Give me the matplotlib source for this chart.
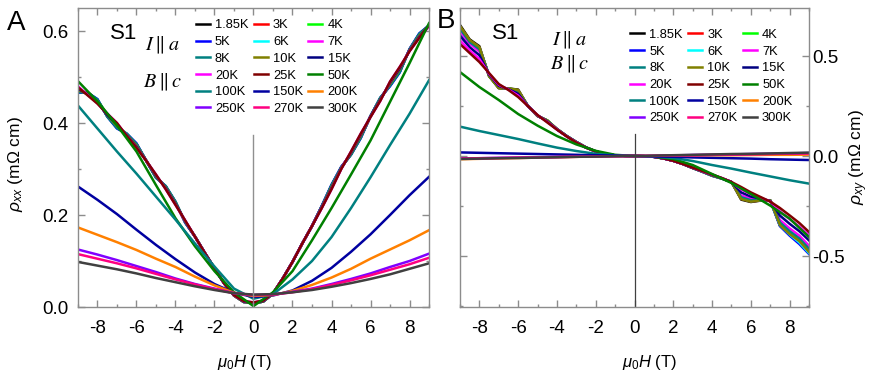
import numpy as np
import matplotlib
matplotlib.use("Agg")
import matplotlib.pyplot as plt
from matplotlib.ticker import MultipleLocator, FormatStrFormatter

plt.rcParams['font.family'] = ['Liberation Sans', 'DejaVu Sans']
plt.rcParams['axes.unicode_minus'] = False
plt.rcParams['mathtext.fontset'] = 'custom'
plt.rcParams['mathtext.rm'] = 'Liberation Sans'
plt.rcParams['mathtext.it'] = 'Liberation Sans:italic'
plt.rcParams['mathtext.bf'] = 'Liberation Sans:bold'

# field grids (T)
field_fine = np.linspace(-9, 9, 37)   # 0.5 T steps, low-T curves
field = np.arange(-9, 10)             # 1 T steps, high-T curves

temps_low = ['1.85', '3', '4', '5', '6', '7', '8', '10', '15', '20', '25']
temps_high = ['50', '100', '150', '200', '250', '270', '300']
colors_low = ['#000000', '#ff0000', '#00ff00', '#0000ff', '#00ffff', '#ff00ff',
              '#008080', '#808000', '#000080', '#ff00ff', '#800000']
colors_high = ['#008000', '#008080', '#0000a0', '#ff8000', '#8000ff', '#ff0080', '#404040']

# rho_xx (mOhm cm), panel A, low T on field_fine
rxx_low = [
    [0.468, 0.465, 0.450, 0.415, 0.390, 0.376, 0.354, 0.318, 0.282, 0.262, 0.228, 0.184, 0.153, 0.118, 0.084, 0.051, 0.025, 0.011, 0.008,
     0.012, 0.029, 0.062, 0.098, 0.138, 0.176, 0.219, 0.264, 0.304, 0.332, 0.369, 0.415, 0.454, 0.482, 0.512, 0.560, 0.593, 0.612],  # 1.85K
    [0.469, 0.464, 0.449, 0.416, 0.391, 0.376, 0.353, 0.318, 0.283, 0.261, 0.227, 0.184, 0.153, 0.118, 0.084, 0.051, 0.025, 0.011, 0.008,
     0.012, 0.029, 0.062, 0.098, 0.138, 0.176, 0.219, 0.263, 0.304, 0.333, 0.370, 0.415, 0.453, 0.483, 0.513, 0.560, 0.592, 0.612],  # 3K
    [0.471, 0.466, 0.451, 0.418, 0.393, 0.377, 0.354, 0.319, 0.284, 0.262, 0.228, 0.185, 0.154, 0.118, 0.084, 0.051, 0.025, 0.011, 0.008,
     0.012, 0.029, 0.062, 0.098, 0.138, 0.176, 0.218, 0.262, 0.303, 0.332, 0.369, 0.414, 0.452, 0.482, 0.512, 0.559, 0.591, 0.611],  # 4K
    [0.466, 0.466, 0.452, 0.414, 0.388, 0.377, 0.356, 0.318, 0.281, 0.263, 0.229, 0.183, 0.153, 0.118, 0.084, 0.051, 0.025, 0.011, 0.008,
     0.012, 0.029, 0.062, 0.098, 0.138, 0.176, 0.220, 0.266, 0.305, 0.331, 0.367, 0.415, 0.455, 0.480, 0.510, 0.561, 0.595, 0.612],  # 5K
    [0.470, 0.464, 0.448, 0.416, 0.392, 0.375, 0.352, 0.318, 0.283, 0.261, 0.227, 0.185, 0.153, 0.118, 0.084, 0.051, 0.025, 0.011, 0.008,
     0.012, 0.029, 0.062, 0.098, 0.138, 0.176, 0.218, 0.262, 0.303, 0.333, 0.371, 0.415, 0.453, 0.484, 0.514, 0.559, 0.591, 0.612],  # 6K
    [0.471, 0.464, 0.448, 0.416, 0.393, 0.375, 0.352, 0.318, 0.284, 0.260, 0.226, 0.185, 0.153, 0.118, 0.084, 0.051, 0.025, 0.011, 0.008,
     0.012, 0.029, 0.062, 0.098, 0.138, 0.176, 0.218, 0.262, 0.303, 0.334, 0.371, 0.414, 0.452, 0.484, 0.515, 0.559, 0.591, 0.612],  # 7K
    [0.467, 0.466, 0.451, 0.414, 0.389, 0.376, 0.355, 0.318, 0.281, 0.263, 0.229, 0.184, 0.153, 0.118, 0.084, 0.051, 0.025, 0.011, 0.008,
     0.012, 0.029, 0.062, 0.098, 0.138, 0.176, 0.219, 0.265, 0.304, 0.331, 0.368, 0.415, 0.455, 0.481, 0.511, 0.560, 0.594, 0.612],  # 8K
    [0.472, 0.463, 0.447, 0.417, 0.394, 0.374, 0.351, 0.318, 0.284, 0.260, 0.226, 0.186, 0.153, 0.118, 0.084, 0.051, 0.025, 0.011, 0.008,
     0.012, 0.029, 0.062, 0.098, 0.138, 0.176, 0.217, 0.261, 0.302, 0.334, 0.372, 0.414, 0.452, 0.485, 0.516, 0.558, 0.590, 0.612],  # 10K
    [0.475, 0.462, 0.444, 0.418, 0.397, 0.373, 0.348, 0.318, 0.286, 0.258, 0.224, 0.187, 0.153, 0.118, 0.084, 0.051, 0.026, 0.012, 0.009,
     0.013, 0.030, 0.062, 0.098, 0.138, 0.176, 0.216, 0.258, 0.301, 0.336, 0.375, 0.414, 0.450, 0.488, 0.519, 0.557, 0.587, 0.612],  # 15K
    [0.480, 0.461, 0.443, 0.421, 0.400, 0.372, 0.346, 0.318, 0.288, 0.256, 0.222, 0.188, 0.153, 0.118, 0.084, 0.051, 0.026, 0.013, 0.010,
     0.014, 0.030, 0.062, 0.098, 0.138, 0.176, 0.215, 0.256, 0.300, 0.338, 0.377, 0.413, 0.448, 0.490, 0.522, 0.556, 0.585, 0.610],  # 20K
    [0.478, 0.460, 0.442, 0.420, 0.400, 0.372, 0.346, 0.318, 0.288, 0.256, 0.222, 0.188, 0.153, 0.118, 0.084, 0.051, 0.026, 0.013, 0.010,
     0.014, 0.030, 0.062, 0.098, 0.138, 0.176, 0.215, 0.256, 0.300, 0.338, 0.377, 0.413, 0.448, 0.490, 0.522, 0.556, 0.585, 0.612],  # 25K
]

# rho_xx, panel A, high T on field
rxx_high = [
    [0.491, 0.447, 0.395, 0.338, 0.265, 0.193, 0.132, 0.078, 0.032, 0.002, 0.032, 0.078, 0.145, 0.215, 0.288, 0.362, 0.446, 0.530, 0.617],  # 50K
    [0.438, 0.388, 0.338, 0.290, 0.240, 0.190, 0.138, 0.088, 0.040, 0.018, 0.028, 0.060, 0.100, 0.152, 0.215, 0.282, 0.352, 0.420, 0.493],  # 100K
    [0.262, 0.233, 0.202, 0.168, 0.135, 0.104, 0.075, 0.050, 0.031, 0.022, 0.025, 0.036, 0.057, 0.085, 0.120, 0.158, 0.200, 0.243, 0.283],  # 150K
    [0.173, 0.157, 0.141, 0.124, 0.105, 0.087, 0.066, 0.047, 0.031, 0.024, 0.026, 0.035, 0.048, 0.064, 0.083, 0.105, 0.125, 0.145, 0.167],  # 200K
    [0.125, 0.114, 0.102, 0.089, 0.076, 0.062, 0.050, 0.040, 0.030, 0.026, 0.027, 0.033, 0.040, 0.050, 0.061, 0.073, 0.087, 0.100, 0.116],  # 250K
    [0.115, 0.105, 0.095, 0.084, 0.072, 0.060, 0.049, 0.039, 0.030, 0.026, 0.027, 0.032, 0.039, 0.048, 0.058, 0.069, 0.081, 0.093, 0.107],  # 270K
    [0.098, 0.090, 0.082, 0.073, 0.063, 0.054, 0.045, 0.037, 0.030, 0.027, 0.028, 0.032, 0.037, 0.044, 0.052, 0.061, 0.071, 0.083, 0.095],  # 300K
]

# rho_xy (mOhm cm), panel B, low T on field_fine
rxy_low = [
    [0.655, 0.583, 0.549, 0.399, 0.339, 0.338, 0.332, 0.250, 0.200, 0.178, 0.135, 0.100, 0.070, 0.043, 0.023, 0.010, 0.003, 0.001, 0.000,
     -0.001, -0.004, -0.012, -0.024, -0.040, -0.060, -0.078, -0.098, -0.112, -0.130, -0.218, -0.230, -0.223, -0.222, -0.349, -0.395, -0.430, -0.485],  # 1.85K
    [0.648, 0.578, 0.543, 0.401, 0.341, 0.337, 0.329, 0.251, 0.200, 0.177, 0.135, 0.100, 0.070, 0.043, 0.023, 0.010, 0.003, 0.001, 0.000,
     -0.001, -0.004, -0.012, -0.024, -0.040, -0.060, -0.078, -0.097, -0.112, -0.130, -0.214, -0.227, -0.222, -0.221, -0.344, -0.389, -0.424, -0.478],  # 3K
    [0.646, 0.577, 0.541, 0.401, 0.341, 0.338, 0.328, 0.250, 0.200, 0.178, 0.135, 0.100, 0.070, 0.043, 0.023, 0.010, 0.003, 0.001, 0.000,
     -0.001, -0.004, -0.012, -0.024, -0.040, -0.060, -0.078, -0.098, -0.112, -0.130, -0.212, -0.226, -0.221, -0.222, -0.341, -0.385, -0.421, -0.475],  # 4K
    [0.615, 0.565, 0.540, 0.405, 0.345, 0.336, 0.325, 0.252, 0.201, 0.176, 0.134, 0.100, 0.070, 0.043, 0.023, 0.010, 0.003, 0.001, 0.000,
     -0.001, -0.004, -0.012, -0.024, -0.040, -0.060, -0.079, -0.099, -0.113, -0.130, -0.210, -0.226, -0.222, -0.224, -0.350, -0.398, -0.440, -0.490],  # 5K
    [0.620, 0.567, 0.538, 0.404, 0.344, 0.336, 0.324, 0.251, 0.201, 0.176, 0.134, 0.100, 0.070, 0.043, 0.023, 0.010, 0.003, 0.001, 0.000,
     -0.001, -0.004, -0.012, -0.024, -0.040, -0.060, -0.078, -0.098, -0.112, -0.130, -0.208, -0.224, -0.220, -0.222, -0.345, -0.392, -0.432, -0.485],  # 6K
    [0.623, 0.561, 0.523, 0.404, 0.346, 0.336, 0.320, 0.250, 0.201, 0.175, 0.134, 0.099, 0.069, 0.042, 0.023, 0.010, 0.003, 0.001, 0.000,
     -0.001, -0.004, -0.012, -0.024, -0.040, -0.059, -0.077, -0.096, -0.111, -0.130, -0.197, -0.214, -0.217, -0.224, -0.320, -0.362, -0.398, -0.449],  # 7K
    [0.637, 0.570, 0.534, 0.402, 0.343, 0.337, 0.325, 0.250, 0.201, 0.177, 0.135, 0.100, 0.070, 0.043, 0.023, 0.010, 0.003, 0.001, 0.000,
     -0.001, -0.004, -0.012, -0.024, -0.040, -0.060, -0.078, -0.097, -0.112, -0.130, -0.206, -0.221, -0.219, -0.223, -0.332, -0.376, -0.412, -0.464],  # 8K
    [0.650, 0.580, 0.545, 0.400, 0.340, 0.338, 0.330, 0.250, 0.200, 0.178, 0.135, 0.100, 0.070, 0.043, 0.023, 0.010, 0.003, 0.001, 0.000,
     -0.001, -0.004, -0.012, -0.024, -0.040, -0.060, -0.078, -0.098, -0.112, -0.130, -0.215, -0.228, -0.222, -0.222, -0.345, -0.390, -0.425, -0.480],  # 10K
    [0.601, 0.544, 0.504, 0.408, 0.351, 0.334, 0.311, 0.250, 0.203, 0.173, 0.133, 0.099, 0.068, 0.042, 0.023, 0.010, 0.003, 0.001, 0.000,
     -0.001, -0.004, -0.012, -0.024, -0.040, -0.059, -0.076, -0.095, -0.111, -0.130, -0.182, -0.203, -0.213, -0.225, -0.298, -0.339, -0.376, -0.422],  # 15K
    [0.578, 0.528, 0.485, 0.412, 0.356, 0.332, 0.302, 0.250, 0.204, 0.170, 0.133, 0.098, 0.068, 0.042, 0.023, 0.010, 0.003, 0.001, 0.000,
     -0.001, -0.004, -0.012, -0.024, -0.040, -0.058, -0.076, -0.093, -0.110, -0.130, -0.167, -0.191, -0.208, -0.227, -0.277, -0.316, -0.353, -0.396],  # 20K
    [0.560, 0.515, 0.470, 0.415, 0.360, 0.330, 0.295, 0.250, 0.205, 0.168, 0.132, 0.098, 0.067, 0.042, 0.023, 0.010, 0.003, 0.001, 0.000,
     -0.001, -0.004, -0.012, -0.024, -0.040, -0.058, -0.075, -0.092, -0.110, -0.130, -0.155, -0.182, -0.205, -0.228, -0.260, -0.297, -0.335, -0.380],  # 25K
]

# rho_xy, panel B, high T on field
rxy_high = [
    [0.420, 0.345, 0.280, 0.210, 0.152, 0.100, 0.058, 0.026, 0.006, 0.000, -0.003, -0.015, -0.045, -0.090, -0.135, -0.190, -0.248, -0.313, -0.405],  # 50K
    [0.147, 0.125, 0.105, 0.085, 0.063, 0.042, 0.025, 0.011, 0.003, 0.000, -0.003, -0.010, -0.025, -0.045, -0.063, -0.083, -0.102, -0.121, -0.138],  # 100K
    [0.018, 0.016, 0.014, 0.012, 0.010, 0.008, 0.006, 0.004, 0.002, 0.000, -0.002, -0.004, -0.007, -0.009, -0.011, -0.013, -0.016, -0.018, -0.020],  # 150K
    [-0.016, -0.014, -0.012, -0.010, -0.008, -0.006, -0.004, -0.002, -0.001, 0.000, 0.001, 0.002, 0.003, 0.004, 0.004, 0.005, 0.006, 0.006, 0.007],  # 200K
    [-0.012, -0.011, -0.009, -0.008, -0.006, -0.005, -0.003, -0.002, -0.001, 0.000, 0.001, 0.003, 0.005, 0.006, 0.008, 0.010, 0.011, 0.013, 0.015],  # 250K
    [-0.013, -0.011, -0.010, -0.008, -0.007, -0.005, -0.004, -0.002, -0.001, 0.000, 0.001, 0.003, 0.004, 0.006, 0.007, 0.009, 0.010, 0.012, 0.013],  # 270K
    [-0.015, -0.013, -0.011, -0.010, -0.008, -0.006, -0.004, -0.003, -0.001, 0.000, 0.002, 0.004, 0.006, 0.008, 0.010, 0.011, 0.013, 0.015, 0.017],  # 300K
]

SPINE = '#8c8c8c'
LEG = dict(ncol=3, loc='upper left', frameon=False, fontsize=9.3, handlelength=1.1,
           handletextpad=0.4, columnspacing=0.4, labelspacing=0.36, borderpad=0, borderaxespad=0)


def draw(ax, low, high):
    lines = []
    for T, c, y in zip(temps_low, colors_low, low):
        lines += ax.plot(field_fine, y, color=c, lw=1.8, label=T + 'K')
    for T, c, y in zip(temps_high, colors_high, high):
        lines += ax.plot(field, y, color=c, lw=1.8, label=T + 'K')
    ax.set_xlim(-9, 9)
    ax.xaxis.set_major_locator(MultipleLocator(2))
    ax.xaxis.set_minor_locator(MultipleLocator(1))
    for s in ax.spines.values():
        s.set_color(SPINE)
        s.set_linewidth(1.0)
    ax.tick_params(which='both', direction='in', top=True, bottom=True, left=True, right=True,
                   color=SPINE, labelsize=13.5)
    ax.tick_params(which='major', length=5, width=1)
    ax.tick_params(which='minor', length=2.5, width=1)
    ax.tick_params(axis='x', pad=9)
    ax.set_xlabel(r'$\mu_0H$ (T)', fontsize=12)
    # legend filled row by row, as in the figure
    order = [r * 3 + c for c in range(3) for r in range(6)]
    return [lines[i] for i in order]


fig = plt.figure(figsize=(8.72, 3.82), dpi=100)
axA = fig.add_axes([0.0894, 0.1963, 0.4026, 0.7827])
axB = fig.add_axes([0.5275, 0.1963, 0.4003, 0.7827])

# panel A
handles = draw(axA, rxx_low, rxx_high)
axA.axvline(0, ymin=0, ymax=0.575, color='#909090', lw=1.0)
axA.set_ylim(0, 0.65)
axA.yaxis.set_major_locator(MultipleLocator(0.2))
axA.yaxis.set_minor_locator(MultipleLocator(0.1))
axA.yaxis.set_major_formatter(FormatStrFormatter('%.1f'))
axA.tick_params(axis='y', pad=7)
axA.set_ylabel(r'$\rho_{xx}$ (mΩ cm)', fontsize=12.5)
axA.yaxis.set_label_coords(-0.15, 0.478)
axA.xaxis.set_label_coords(0.474, -0.155)
axA.legend(handles, [h.get_label() for h in handles], bbox_to_anchor=(0.335, 0.962), **LEG)
axA.text(0.09, 0.915, 'S1', transform=axA.transAxes, fontsize=16, va='center')
axA.text(0.19, 0.875, r'$I\parallel a$', transform=axA.transAxes, fontsize=14.5,
         va='center', math_fontfamily='stix')
axA.text(0.185, 0.751, r'$B\parallel c$', transform=axA.transAxes, fontsize=14.5,
         va='center', math_fontfamily='stix')

# panel B
handles = draw(axB, rxy_low, rxy_high)
axB.axvline(0, ymin=0, ymax=0.58, color='#404040', lw=0.9)
axB.set_ylim(-0.755, 0.74)
axB.yaxis.set_major_locator(MultipleLocator(0.5))
axB.yaxis.set_minor_locator(MultipleLocator(0.25))
axB.yaxis.set_major_formatter(FormatStrFormatter('%.1f'))
axB.tick_params(axis='y', labelleft=False, labelright=True, pad=2)
axB.yaxis.set_label_position('right')
axB.set_ylabel(r'$\rho_{xy}$ (mΩ cm)', fontsize=12.5)
axB.yaxis.set_label_coords(1.109, 0.5)
axB.xaxis.set_label_coords(0.544, -0.155)
axB.legend(handles, [h.get_label() for h in handles], bbox_to_anchor=(0.487, 0.93), **LEG)
axB.text(0.092, 0.915, 'S1', transform=axB.transAxes, fontsize=16, va='center')
axB.text(0.264, 0.891, r'$I\parallel a$', transform=axB.transAxes, fontsize=14.5,
         va='center', math_fontfamily='stix')
axB.text(0.258, 0.811, r'$B\parallel c$', transform=axB.transAxes, fontsize=14.5,
         va='center', math_fontfamily='stix')

fig.text(0.008, 0.975, 'A', fontsize=20, va='top')
fig.text(0.501, 0.98, 'B', fontsize=20, va='top')

fig.savefig('out.png', dpi=100)
